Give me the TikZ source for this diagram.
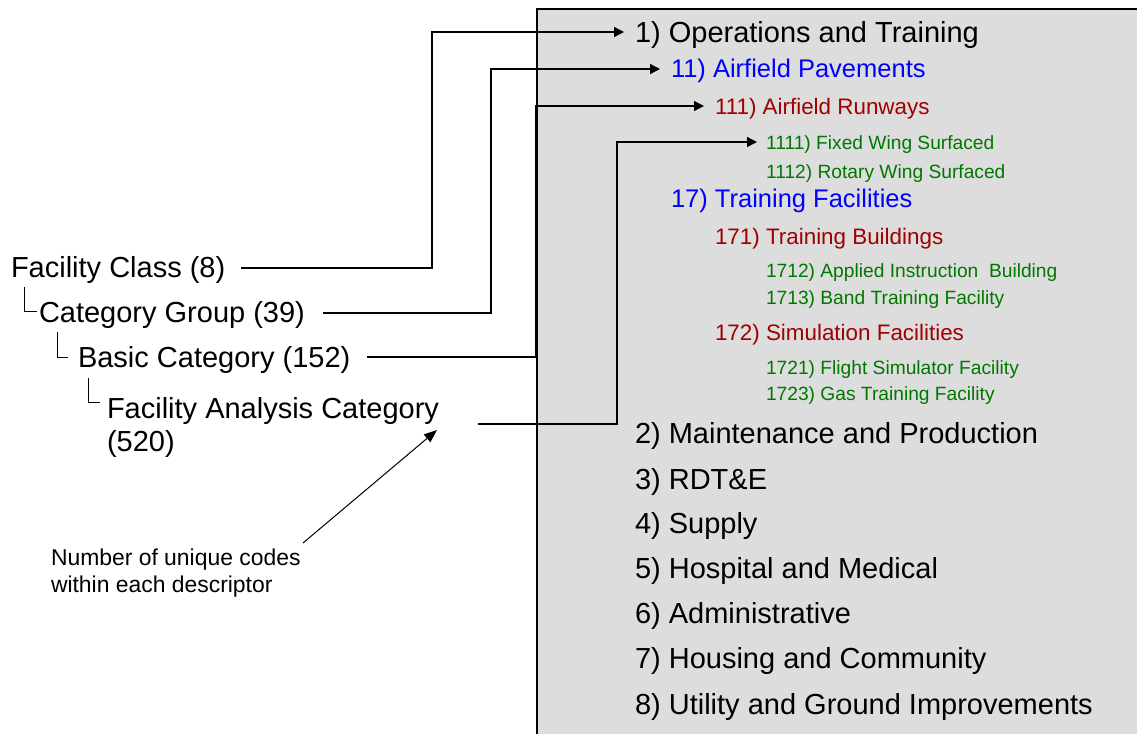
\documentclass[tikz,border=0pt]{standalone}
\usepackage{fontspec}
\setmainfont{Liberation Sans}
\usetikzlibrary{arrows.meta}
\definecolor{boxgray}{RGB}{221,221,221}
\definecolor{lvlblue}{RGB}{0,0,255}
\definecolor{lvlred}{RGB}{160,0,0}
\definecolor{lvlgreen}{RGB}{0,120,0}
\begin{document}
\begin{tikzpicture}[x=1pt,y=-1pt,
  lbl/.style={anchor=base west,inner sep=0pt,outer sep=0pt},
  big/.style={lbl,font=\fontsize{29}{32}\selectfont},
  lvlb/.style={lbl,text=lvlblue,font=\fontsize{25.5}{28}\selectfont},
  lvlr/.style={lbl,text=lvlred,font=\fontsize{22.4}{26}\selectfont},
  lvlg/.style={lbl,text=lvlgreen,font=\fontsize{19.2}{22}\selectfont},
  note/.style={lbl,font=\fontsize{22.9}{27}\selectfont},
  conn/.style={line width=1.3pt,-{Triangle[length=10pt,width=10pt]}},
  tree/.style={line width=1pt},
  annot/.style={line width=1pt,-{Triangle[length=13pt,width=10pt]}},
]
\useasboundingbox (0,0) rectangle (1137,734);
% gray panel
\fill[boxgray] (537,9) rectangle (1137,734);
\draw[line width=1.5pt] (537,734) -- (537,9) -- (1137,9);

% right-hand hierarchy
\node[big]  (c1)    at (635,42)  {1) Operations and Training};
\node[lvlb] (c11)   at (671,77)  {11) Airfield Pavements};
\node[lvlr] (c111)  at (715,114) {111) Airfield Runways};
\node[lvlg] (c1111) at (766,149) {1111) Fixed Wing Surfaced};
\node[lvlg] (c1112) at (766,178) {1112) Rotary Wing Surfaced};
\node[lvlb] (c17)   at (671,207) {17) Training Facilities};
\node[lvlr] (c171)  at (715,244) {171) Training Buildings};
\node[lvlg] (c1712) at (766,277) {1712) Applied Instruction\ \ Building};
\node[lvlg] (c1713) at (766,304) {1713) Band Training Facility};
\node[lvlr] (c172)  at (715,340) {172) Simulation Facilities};
\node[lvlg] (c1721) at (766,374) {1721) Flight Simulator Facility};
\node[lvlg] (c1723) at (766,400) {1723) Gas Training Facility};
\node[big]  (c2)    at (635,443) {2) Maintenance and Production};
\node[big]  (c3)    at (635,489) {3) RDT\&E};
\node[big]  (c4)    at (635,533) {4) Supply};
\node[big]  (c5)    at (635,578) {5) Hospital and Medical};
\node[big]  (c6)    at (635,623) {6) Administrative};
\node[big]  (c7)    at (635,668) {7) Housing and Community};
\node[big]  (c8)    at (635,714) {8) Utility and Ground Improvements};

% left-hand descriptors
\node[big] (fc)   at (11,277)  {Facility Class (8)};
\node[big] (cg)   at (39,322)  {Category Group (39)};
\node[big] (bc)   at (78,367)  {Basic Category (152)};
\node[big] (fac)  at (107,418) {Facility Analysis Category};
\node[big] (fac2) at (107,451) {(520)};
\node[note] (n1)  at (51,565)  {Number of unique codes};
\node[note] (n2)  at (51,592)  {within each descriptor};

% tree brackets
\draw[tree] (24,287) |- (37,311);
\draw[tree] (57,332) |- (68,357);
\draw[tree] (88,378) |- (100,402);

% connector end points
\coordinate (s1) at (241,268);
\coordinate (s2) at (323,313);
\coordinate (s3) at (367,357);
\coordinate (s4) at (478,424);
\coordinate (t1) at (624,32);
\coordinate (t2) at (660,69);
\coordinate (t3) at (704,106);
\coordinate (t4) at (757,142);

\draw[conn] (s1) -| (432,32) -- (t1);
\draw[conn] (s2) -| (491,69) -- (t2);
\draw[conn] (s3) -| (536,106) -- (t3);
\draw[conn] (s4) -| (617,142) -- (t4);

% annotation arrow
\coordinate (a0) at (303,543);
\coordinate (a1) at (437,430);
\draw[annot] (a0) -- (a1);
\end{tikzpicture}
\end{document}
